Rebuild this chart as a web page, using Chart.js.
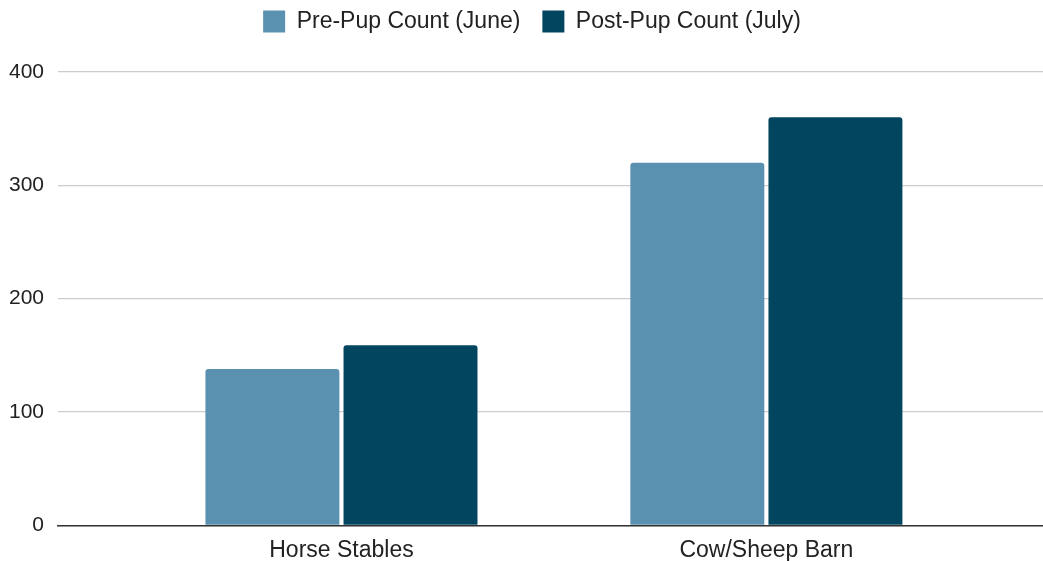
<!DOCTYPE html>
<html lang="en">
<head>
  <meta charset="UTF-8" />
  <title>Pup Count by Location</title>
  <script src="https://cdn.jsdelivr.net/npm/chart.js"></script>
  <style>
    html, body {
      margin: 0;
      padding: 0;
      background: #fff;
    }
    #wrap {
      width: 1043px;
      height: 561px;
      position: relative;
    }
  </style>
</head>
<body>
  <div id="wrap">
    <canvas id="pupChart"></canvas>
  </div>

  <script>
    // data
    const locations = ['Horse Stables', 'Cow/Sheep Barn'];
    const preCounts = [138, 320];
    const postCounts = [159, 360];
    const yTicks = [0, 100, 200, 300, 400];

    const X_MIN = -0.667, X_MAX = 1.651;
    const family = '"Liberation Sans", Arial, sans-serif';
    const yFont = { family: family, size: 21 };
    const xFont = { family: family, size: 23 };
    const legendFont = { family: family, size: 23 };

    // push the plot down below the legend, nudge legend a bit right
    const legendSpacer = {
      id: 'legendSpacer',
      beforeInit(chart) {
        const origFit = chart.legend.fit;
        chart.legend.fit = function () {
          origFit.call(this);
          this.height += 29;
          if (this.lineWidths) this.lineWidths[0] -= 26;
        };
      }
    };

    const toPoints = vals => vals.map((v, i) => ({ x: i, y: v }));

    new Chart(document.getElementById('pupChart'), {
      type: 'bar',
      data: {
        datasets: [{
          label: 'Pre-Pup Count (June)',
          data: toPoints(preCounts),
          backgroundColor: '#5b91b0',
          borderRadius: 3,
          categoryPercentage: 0.65,
          barPercentage: 0.97
        }, {
          label: 'Post-Pup Count (July)',
          data: toPoints(postCounts),
          backgroundColor: '#02455f',
          borderRadius: 3,
          categoryPercentage: 0.65,
          barPercentage: 0.97
        }]
      },
      options: {
        responsive: true,
        maintainAspectRatio: false,
        animation: false,
        layout: { padding: { top: -12, left: -5, right: 0, bottom: -14 } },
        plugins: {
          legend: {
            position: 'top',
            labels: {
              boxWidth: 22,
              boxHeight: 22,
              padding: 22,
              color: '#222',
              font: legendFont
            }
          },
          tooltip: { enabled: false }
        },
        scales: {
          x: {
            type: 'linear',
            offset: false,
            bounds: 'data',
            min: X_MIN,
            max: X_MAX,
            afterBuildTicks: scale => {
              scale.ticks = locations.map((_, i) => ({ value: i }));
              scale.min = X_MIN;
              scale.max = X_MAX;
            },
            ticks: {
              color: '#222',
              font: xFont,
              padding: 11,
              maxRotation: 0,
              autoSkip: false,
              callback: v => locations[v] ?? ''
            },
            grid: { display: false, drawTicks: false, offset: false },
            border: { display: true, color: '#333', width: 1.5 }
          },
          y: {
            min: 0,
            max: 400,
            afterBuildTicks: scale => {
              scale.ticks = yTicks.map(v => ({ value: v }));
            },
            ticks: {
              color: '#222',
              font: yFont,
              padding: 14
            },
            grid: { color: '#cccccc', lineWidth: 1.2, drawTicks: false },
            border: { display: false }
          }
        }
      },
      plugins: [legendSpacer]
    });
  </script>
</body>
</html>
